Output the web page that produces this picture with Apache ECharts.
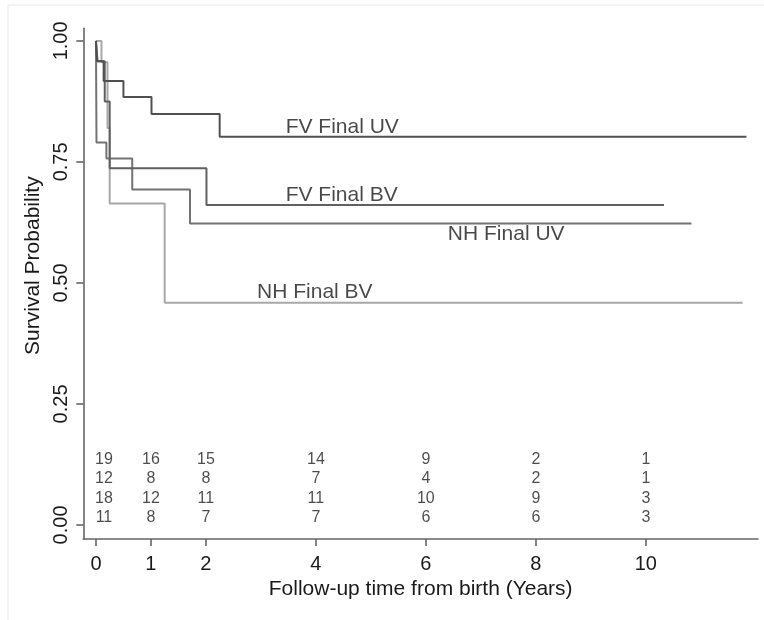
<!DOCTYPE html>
<html>
<head>
<meta charset="utf-8">
<script src="https://cdn.jsdelivr.net/npm/echarts@6/dist/echarts.min.js"></script>
<style>
html,body{margin:0;padding:0;background:#fff;}
#chart{width:764px;height:620px;}
</style>
</head>
<body>
<div id="chart"></div>
<script>
// ---- data ----
const fvUVTimes = [0, 0.02, 0.14, 0.50, 1.01, 2.25, 11.83];
const fvUVSurv  = [1, 0.958, 0.917, 0.884, 0.849, 0.802, 0.802];
const fvBVTimes = [0, 0.03, 0.16, 0.25, 2.01, 10.33];
const fvBVSurv  = [1, 0.958, 0.875, 0.737, 0.661, 0.661];
const nhUVTimes = [0, 0.01, 0.19, 0.66, 1.71, 10.83];
const nhUVSurv  = [1, 0.79, 0.757, 0.693, 0.623, 0.623];
const nhBVTimes = [0, 0.10, 0.21, 0.25, 1.25, 11.76];
const nhBVSurv  = [1, 0.956, 0.82, 0.664, 0.459, 0.459];

const groupNames = ['FV Final UV', 'FV Final BV', 'NH Final UV', 'NH Final BV'];

const xTicks = [0, 1, 2, 4, 6, 8, 10];
const yTicks = [0, 0.25, 0.5, 0.75, 1];

const atRiskTimes = [0, 1, 2, 4, 6, 8, 10];
const atRiskRow1 = [19, 16, 15, 14, 9, 2, 1];
const atRiskRow2 = [12, 8, 8, 7, 4, 2, 1];
const atRiskRow3 = [18, 12, 11, 11, 10, 9, 3];
const atRiskRow4 = [11, 8, 7, 7, 6, 6, 3];

// ---- layout / style ----
const FONT = "'Liberation Sans', Arial, sans-serif";
const colors = ['#505050', '#606060', '#737373', '#a8a8a8'];
const labelAnchors = [[3.45, 0.821], [3.45, 0.682], [6.40, 0.600], [2.93, 0.480]];
const rowY = [0.136, 0.096, 0.055, 0.016];

function zip(t, s) { return t.map((v, i) => [v, s[i]]); }
const curves = [zip(fvUVTimes, fvUVSurv), zip(fvBVTimes, fvBVSurv), zip(nhUVTimes, nhUVSurv), zip(nhBVTimes, nhBVSurv)];

const series = curves.map((d, i) => ({
  type: 'line', name: groupNames[i], data: d, step: 'end', symbol: 'none',
  lineStyle: { color: colors[i], width: 2 }, silent: true, animation: false, z: 3 - i * 0.1
}));

series.push({
  type: 'scatter', symbolSize: 0, silent: true, animation: false,
  data: groupNames.map((n, i) => ({ name: n, value: labelAnchors[i] })),
  label: { show: true, position: 'right', distance: 0, formatter: '{b}', color: '#1a1a1a', fontSize: 21, fontFamily: FONT }
});

const rows = [atRiskRow1, atRiskRow2, atRiskRow3, atRiskRow4];
const riskData = [];
rows.forEach((r, ri) => r.forEach((n, ci) => {
  const item = { value: [atRiskTimes[ci], rowY[ri], n] };
  if (ci === 0) item.label = { offset: [8, 0] };
  riskData.push(item);
}));
series.push({
  type: 'scatter', symbolSize: 0, silent: true, animation: false, data: riskData,
  label: { show: true, position: 'inside', formatter: p => String(p.value[2]), color: '#1f1f1f', fontSize: 16, fontFamily: FONT }
});

const axisCol = '#666';
const option = {
  backgroundColor: '#fff',
  animation: false,
  graphic: [{
    type: 'polyline', silent: true,
    shape: { points: [[8, 620], [8, 5], [764, 5]] },
    style: { stroke: '#e8e8e8', lineWidth: 1, fill: null }
  }],
  grid: { left: 83.3, right: 6, top: 28.3, bottom: 81, containLabel: false, outerBoundsMode: 'none' },
  xAxis: {
    type: 'value', min: -0.23, max: 12.04,
    axisLine: { show: true, onZero: false, lineStyle: { color: axisCol, width: 1.6 } },
    axisTick: { show: true, customValues: xTicks, length: 7, lineStyle: { color: axisCol, width: 1.6 } },
    axisLabel: { customValues: xTicks, fontSize: 20, color: '#1a1a1a', margin: 15, fontFamily: FONT },
    splitLine: { show: false },
    name: 'Follow-up time from birth (Years)', nameLocation: 'middle', nameGap: 35,
    nameTextStyle: { fontSize: 21, color: '#1a1a1a', fontFamily: FONT }
  },
  yAxis: {
    type: 'value', min: -0.029, max: 1.026,
    axisLine: { show: true, onZero: false, lineStyle: { color: axisCol, width: 1.6 } },
    axisTick: { show: true, customValues: yTicks, length: 7, lineStyle: { color: axisCol, width: 1.6 } },
    axisLabel: { customValues: yTicks, rotate: 90, fontSize: 20, color: '#1a1a1a', margin: 12, fontFamily: FONT,
      formatter: v => v.toFixed(2) },
    splitLine: { show: false },
    name: 'Survival Probability', nameLocation: 'middle', nameGap: 38,
    nameTextStyle: { fontSize: 21, color: '#1a1a1a', fontFamily: FONT, padding: [0, 0, 0, 36] }
  },
  series: series
};

const chart = echarts.init(document.getElementById('chart'), null, { renderer: 'canvas' });
chart.setOption(option);
</script>
</body>
</html>
